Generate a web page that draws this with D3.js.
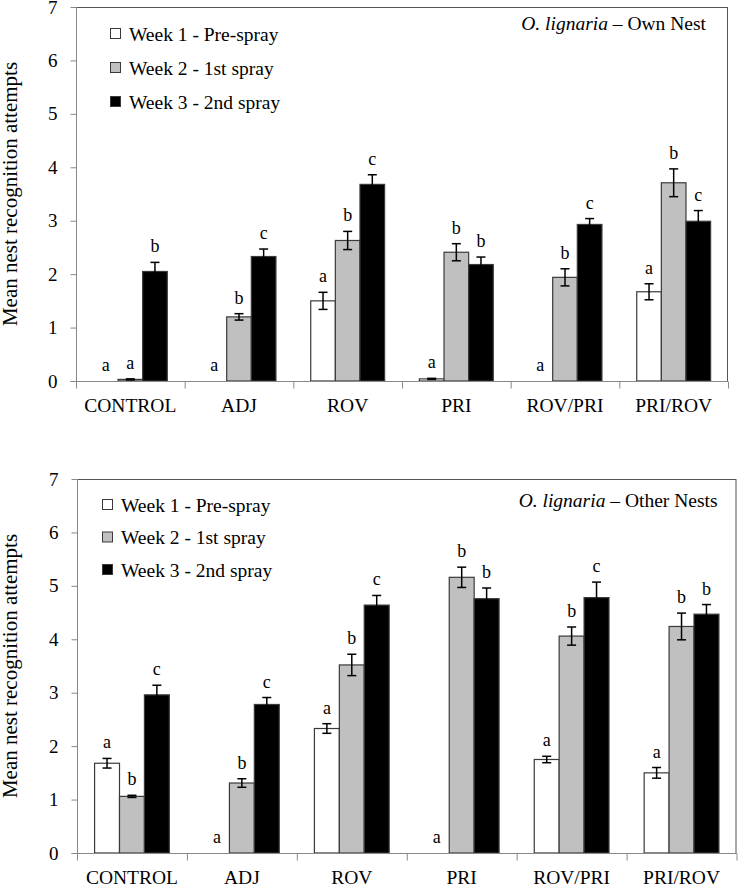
<!DOCTYPE html>
<html>
<head>
<meta charset="utf-8">
<script src="https://cdn.jsdelivr.net/npm/d3@7"></script>
<style>
  html, body { margin: 0; padding: 0; background: #fff; }
  svg { display: block; }
  text { font-family: "Liberation Serif", "Times New Roman", serif; fill: #000; }
</style>
</head>
<body>
<svg id="chart" width="738" height="884"></svg>
<script>
// ---------- data ----------
const categories = ["CONTROL", "ADJ", "ROV", "PRI", "ROV/PRI", "PRI/ROV"];
const seriesNames = ["Week 1 - Pre-spray", "Week 2 - 1st spray", "Week 3 - 2nd spray"];
const yTicks = [0, 1, 2, 3, 4, 5, 6, 7];

// Panel 1: O. lignaria – Own Nest
const ownWeek1 = [0, 0, 1.50, 0.04, 0, 1.67];
const ownWeek2 = [0.03, 1.20, 2.63, 2.41, 1.94, 3.71];
const ownWeek3 = [2.05, 2.33, 3.68, 2.18, 2.93, 2.99];
const ownWeek1Err = [0, 0, 0.16, 0.01, 0, 0.15];
const ownWeek2Err = [0.01, 0.06, 0.17, 0.16, 0.16, 0.26];
const ownWeek3Err = [0.17, 0.14, 0.18, 0.14, 0.11, 0.20];
const ownWeek1Letters = ["a", "a", "a", "a", "a", "a"];
const ownWeek2Letters = ["a", "b", "b", "b", "b", "b"];
const ownWeek3Letters = ["b", "c", "c", "b", "c", "c"];

// Panel 2: O. lignaria – Other Nests
const otherWeek1 = [1.68, 0, 2.33, 0, 1.75, 1.50];
const otherWeek2 = [1.06, 1.31, 3.52, 5.16, 4.06, 4.24];
const otherWeek3 = [2.96, 2.78, 4.64, 4.76, 4.78, 4.47];
const otherWeek1Err = [0.09, 0, 0.09, 0, 0.06, 0.10];
const otherWeek2Err = [0.02, 0.08, 0.20, 0.19, 0.17, 0.25];
const otherWeek3Err = [0.18, 0.13, 0.18, 0.20, 0.29, 0.18];
const otherWeek1Letters = ["a", "a", "a", "a", "a", "a"];
const otherWeek2Letters = ["b", "b", "b", "b", "b", "b"];
const otherWeek3Letters = ["c", "c", "c", "b", "c", "b"];

const seriesFill = ["#ffffff", "#c0c0c0", "#000000"];

// ---------- drawing ----------
const svg = d3.select("#chart");

function drawPanel(cfg) {
  const { left, right, top, bottom, values, errs, letters, title, legend } = cfg;
  const g = svg.append("g");

  const x = d3.scaleBand().domain(categories).range([left, right]).padding(0);
  const y = d3.scaleLinear().domain([0, 7]).range([bottom, top]);
  const groupW = x.bandwidth() * 0.68;
  const xs = d3.scaleBand().domain(d3.range(3)).range([-groupW / 2, groupW / 2]).padding(0);

  // plot frame
  g.append("rect")
    .attr("x", left + 0.5).attr("y", top + 0.5)
    .attr("width", right - left - 1).attr("height", bottom - top)
    .attr("fill", "none").attr("stroke", "#555").attr("stroke-width", 1);

  // bars
  const data = [];
  values.forEach((vals, s) => vals.forEach((v, i) => data.push({
    s, cat: categories[i], v, e: errs[s][i], l: letters[s][i]
  })));

  const bx = d => x(d.cat) + x.bandwidth() / 2 + xs(d.s);

  g.selectAll("rect.bar").data(data).join("rect")
    .attr("class", "bar")
    .attr("x", d => bx(d))
    .attr("y", d => y(d.v))
    .attr("width", xs.bandwidth())
    .attr("height", d => y(0) - y(d.v))
    .attr("fill", d => seriesFill[d.s])
    .attr("stroke", "#3a3a3a").attr("stroke-width", 1.2);

  // error bars
  const eg = g.selectAll("g.err").data(data.filter(d => d.e > 0)).join("g").attr("class", "err");
  const cx = d => bx(d) + xs.bandwidth() / 2;
  eg.append("line")
    .attr("x1", cx).attr("x2", cx)
    .attr("y1", d => y(d.v + d.e)).attr("y2", d => y(Math.max(0, d.v - d.e)))
    .attr("stroke", "#000").attr("stroke-width", 1.5);
  eg.append("line")
    .attr("x1", d => cx(d) - 4.5).attr("x2", d => cx(d) + 4.5)
    .attr("y1", d => y(d.v + d.e)).attr("y2", d => y(d.v + d.e))
    .attr("stroke", "#000").attr("stroke-width", 1.5);
  eg.append("line")
    .attr("x1", d => cx(d) - 4.5).attr("x2", d => cx(d) + 4.5)
    .attr("y1", d => y(Math.max(0, d.v - d.e))).attr("y2", d => y(Math.max(0, d.v - d.e)))
    .attr("stroke", "#000").attr("stroke-width", 1.5);

  // significance letters
  g.selectAll("text.letter").data(data).join("text")
    .attr("class", "letter")
    .attr("x", d => cx(d))
    .attr("y", d => y(d.v + d.e) - 10)
    .attr("text-anchor", "middle")
    .attr("font-size", 18)
    .text(d => d.l);

  // y axis
  const yAxis = g.append("g")
    .attr("transform", `translate(${left + 0.5},0)`)
    .call(d3.axisLeft(y).tickValues(yTicks).tickFormat(d3.format("d")).tickSize(6).tickPadding(13));
  yAxis.select(".domain").attr("stroke", "#888").attr("d", `M-6,${bottom + 0.5}H0V${top}`);
  yAxis.selectAll(".tick line").attr("stroke", "#888");
  yAxis.selectAll(".tick text").attr("font-size", 19).attr("font-family", "Liberation Serif").attr("fill", "#000");

  // x axis with ticks at category boundaries
  const xAxisG = g.append("g").attr("transform", `translate(0,${bottom + 0.5})`);
  xAxisG.append("line").attr("x1", left).attr("x2", right).attr("stroke", "#888");
  const bounds = categories.map(c => x(c)).concat([right]);
  xAxisG.selectAll("line.tk").data(bounds).join("line")
    .attr("class", "tk")
    .attr("x1", d => d + 0.5).attr("x2", d => d + 0.5)
    .attr("y1", 0).attr("y2", 7)
    .attr("stroke", "#888");
  xAxisG.selectAll("text.cat").data(categories).join("text")
    .attr("class", "cat")
    .attr("x", d => x(d) + x.bandwidth() / 2)
    .attr("y", 30.5)
    .attr("text-anchor", "middle")
    .attr("font-size", 19.5)
    .text(d => d);

  // y axis title
  g.append("text")
    .attr("transform", `translate(17,${(top + bottom) / 2}) rotate(-90)`)
    .attr("text-anchor", "middle")
    .attr("font-size", 21)
    .text("Mean nest recognition attempts");

  // panel title
  const t = g.append("text")
    .attr("x", right - legend.titleRight)
    .attr("y", top + legend.titleY)
    .attr("text-anchor", "end")
    .attr("font-size", 19.5);
  t.append("tspan").attr("font-style", "italic").text("O. lignaria");
  t.append("tspan").text(" \u2013 " + title);

  // legend
  const lg = g.append("g");
  seriesNames.forEach((name, i) => {
    const cy = top + legend.y0 + i * legend.dy;
    lg.append("rect")
      .attr("x", left + legend.x0 + 0.5).attr("y", cy - 5.5)
      .attr("width", 10).attr("height", 10)
      .attr("fill", seriesFill[i]).attr("stroke", "#3a3a3a").attr("stroke-width", 1);
    lg.append("text")
      .attr("x", left + legend.x0 + 19)
      .attr("y", cy + 6.5)
      .attr("font-size", 19.5)
      .text(name);
  });
}

drawPanel({
  left: 76, right: 728, top: 7, bottom: 381,
  values: [ownWeek1, ownWeek2, ownWeek3],
  errs: [ownWeek1Err, ownWeek2Err, ownWeek3Err],
  letters: [ownWeek1Letters, ownWeek2Letters, ownWeek3Letters],
  title: "Own Nest",
  legend: { x0: 34, y0: 27, dy: 34, titleRight: 22, titleY: 23 }
});

drawPanel({
  left: 77, right: 736.5, top: 479, bottom: 853,
  values: [otherWeek1, otherWeek2, otherWeek3],
  errs: [otherWeek1Err, otherWeek2Err, otherWeek3Err],
  letters: [otherWeek1Letters, otherWeek2Letters, otherWeek3Letters],
  title: "Other Nests",
  legend: { x0: 25, y0: 26, dy: 32.5, titleRight: 19, titleY: 28 }
});
</script>
</body>
</html>
